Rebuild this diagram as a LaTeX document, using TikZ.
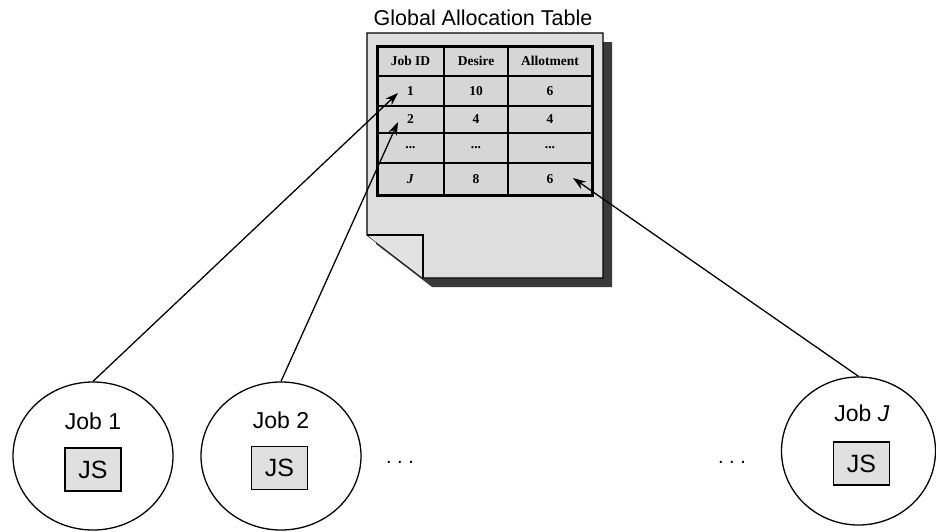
\documentclass[tikz,border=0pt]{standalone}
\usepackage{fontspec}
\setmainfont{Liberation Serif}
\newfontfamily\arialfont{Liberation Sans}
\usetikzlibrary{shapes.geometric,arrows.meta}
\definecolor{pagegray}{HTML}{DEDEDE}
\definecolor{cellgray}{HTML}{D6D6D6}
\definecolor{flapgray}{HTML}{E2E2E2}
\definecolor{shadowgray}{HTML}{3A3A3A}
\definecolor{jsgray}{HTML}{E0E0E0}
\begin{document}
\begin{tikzpicture}[x=1pt,y=-1pt,
  jobnode/.style={draw,ellipse,line width=1.3pt,minimum width=160pt,minimum height=148pt,inner sep=0pt},
  jsbox/.style={draw,fill=jsgray,line width=1.1pt,minimum width=56pt,minimum height=43pt,inner sep=0pt,
                font=\arialfont\fontsize{25}{25}\selectfont},
  joblabel/.style={font=\arialfont\fontsize{23}{23}\selectfont},
  dotsnode/.style={font=\arialfont\fontsize{20}{20}\selectfont},
  cell/.style={font=\bfseries\fontsize{13.5}{14}\selectfont},
  link/.style={line width=1.3pt,-{Stealth[length=13pt,width=9pt]}},
]
\useasboundingbox (0,0) rectangle (936,531);

% title
\node[font=\arialfont\fontsize{21.5}{22}\selectfont] (title) at (483,18) {Global Allocation Table};

% page with shadow and folded corner
\fill[shadowgray] (376,42) -- (612,42) -- (612,287) -- (432,287) -- (376,244) -- cycle;
\draw[fill=pagegray,line width=1.1pt] (367,33) -- (603,33) -- (603,278) -- (423,278) -- (367,235) -- cycle;
\draw[fill=flapgray,line width=1.1pt,line join=miter] (367,235) -- (423,235) -- (423,278);

% table body
\fill[cellgray] (377,46) rectangle (592,195);
\draw[line width=1.4pt] (444,46) -- (444,195) (508,46) -- (508,195);
\draw[line width=1.4pt] (377,76) -- (592,76) (377,106) -- (592,106) (377,133) -- (592,133) (377,163) -- (592,163);
\draw[line width=3pt] (377,46) rectangle (592,195);

% table entries
\node[cell] (h1) at (410.5,61) {Job ID};
\node[cell] (h2) at (476,61) {Desire};
\node[cell] (h3) at (550,61) {Allotment};
\node[cell] (a1) at (410.5,91) {1};
\node[cell] (a2) at (476,91) {10};
\node[cell] (a3) at (550,91) {6};
\node[cell] (b1) at (410.5,119.5) {2};
\node[cell] (b2) at (476,119.5) {4};
\node[cell] (b3) at (550,119.5) {4};
\node[cell] (c1) at (410.5,148) {...};
\node[cell] (c2) at (476,148) {...};
\node[cell] (c3) at (550,148) {...};
\node[cell] (d1) at (410.5,179) {\textit{J}};
\node[cell] (d2) at (476,179) {8};
\node[cell] (d3) at (550,179) {6};

% arrow targets inside the table
\coordinate (t1) at (398,93);
\coordinate (t2) at (398,122);
\coordinate (tJ) at (573,178);

% jobs
\node[jobnode] (job1) at (93,456) {};
\node[joblabel] (lab1) at (93,421) {Job 1};
\node[jsbox] (js1) at (93,469.5) {JS};

\node[jobnode] (job2) at (281,456) {};
\node[joblabel] (lab2) at (281,420) {Job 2};
\node[jsbox] (js2) at (279.5,468) {JS};

\node[jobnode,minimum width=154pt] (jobJ) at (858.5,451) {};
\node[joblabel] (labJ) at (862,413) {Job \textit{J}};
\node[jsbox] (jsJ) at (861.5,463.5) {JS};

\node[dotsnode] (dots1) at (400,462) {.\ .\ .};
\node[dotsnode] (dots2) at (732,462) {.\ .\ .};

% connectors
\draw[link] (job1.north) -- (t1);
\draw[link] (job2.north) -- (t2);
\draw[link] (jobJ.north) -- (tJ);
\end{tikzpicture}
\end{document}
